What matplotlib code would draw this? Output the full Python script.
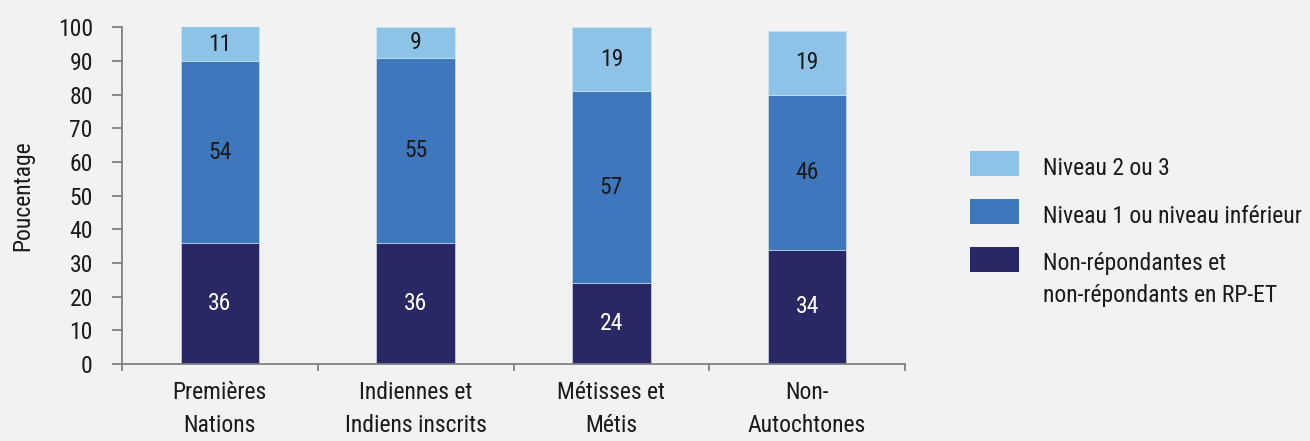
import numpy as np
import matplotlib
matplotlib.use('Agg')
from matplotlib import pyplot as plt
from matplotlib.patches import Rectangle

plt.rcParams['font.family'] = ['Roboto Condensed', 'DejaVu Sans']

categories = ['Premières\nNations', 'Indiennes et\nIndiens inscrits', 'Métisses et\nMétis', 'Non-\nAutochtones']
non_rep = [36, 36, 24, 34]
niveau1 = [54, 55, 57, 46]
niveau23 = [11, 9, 19, 19]

labels = ['Non-répondantes et\nnon-répondants en RP-ET', 'Niveau 1 ou niveau inférieur', 'Niveau 2 ou 3']
colors = ['#2A2864', '#3E77BC', '#8DC3E6']
bg = '#F2F2F2'
txt = '#1a1a1a'
fs = 17

W, H = 1310, 441
fig = plt.figure(figsize=(W / 100, H / 100), dpi=100, facecolor=bg)
ax = fig.add_axes([122 / W, 1 - 364 / H, (905 - 122) / W, (364 - 27.5) / H])
ax.set_facecolor(bg)

x = np.arange(len(categories))
bottom = np.zeros(len(categories))
for vals, col in zip([non_rep, niveau1, niveau23], colors):
    vals = np.array(vals, dtype=float)
    ax.bar(x, vals, 0.4, bottom=bottom, color=col, edgecolor='#d8e6f2', linewidth=0.4)
    for xi, b, v in zip(x, bottom, vals):
        mid = min(b + v / 2, (b + 100) / 2)
        ax.text(xi, mid, str(int(v)), ha='center', va='center', fontsize=fs,
                color='white' if col == colors[0] else txt)
    bottom += vals

ax.set_xlim(-0.5, len(categories) - 0.5)
ax.set_ylim(0, 100)
ax.set_yticks(range(0, 101, 10))
ax.set_xticks(np.arange(-0.5, len(categories), 1.0))
ax.set_xticklabels([])
ax.set_xticks(x, minor=True)
ax.set_xticklabels(categories, minor=True, fontsize=fs, color=txt, linespacing=1.55)
ax.tick_params(axis='x', which='minor', length=0, pad=12)
ax.tick_params(axis='x', which='major', length=5, width=1.3, color='#808080')
ax.tick_params(axis='y', labelsize=fs, labelcolor=txt, length=7, width=1.3, color='#808080', pad=14)
for s in ['top', 'right']:
    ax.spines[s].set_visible(False)
for s in ['left', 'bottom']:
    ax.spines[s].set_color('#808080')
    ax.spines[s].set_linewidth(1.3)
ax.yaxis.set_label_coords(-88 / (905 - 122), 0.5)
ax.set_ylabel('Poucentage', fontsize=fs, color=txt)

# legend, top entry first; patch lines up with the first text line
rows = [151, 199, 247]
for top, col, lab in zip(rows, colors[::-1], labels[::-1]):
    fig.add_artist(Rectangle((970 / W, 1 - (top + 25) / H), 49 / W, 25 / H,
                             transform=fig.transFigure, facecolor=col, edgecolor='none'))
    base = top + 24 + 31 * lab.count('\n')
    fig.text(1043 / W, 1 - base / H, lab, fontsize=fs, color=txt,
             ha='left', va='baseline', linespacing=1.5)

fig.savefig('out.png', dpi=100, facecolor=bg)
